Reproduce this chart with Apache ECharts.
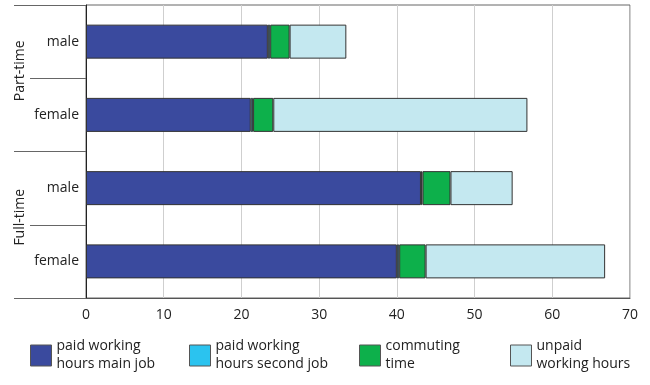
<!DOCTYPE html>
<html>
<head>
<meta charset="utf-8">
<script src="https://cdn.jsdelivr.net/npm/echarts@6/dist/echarts.min.js"></script>
<style>
html,body{margin:0;padding:0;background:#fff;}
#chart{width:650px;height:385px;}
</style>
</head>
<body>
<div id="chart"></div>
<script>
// ---- data ----
var categoryLabels = ['male', 'female', 'male', 'female'];
var groupLabels = ['Part-time', 'Full-time'];
var seriesNames = ['paid working\nhours main job', 'paid working\nhours second job', 'commuting\ntime', 'unpaid\nworking hours'];
var mainJob   = [23.4, 21.2, 43.1, 40.0];
var secondJob = [0.3, 0.3, 0.2, 0.3];
var commuting = [2.5, 2.6, 3.6, 3.4];
var unpaid    = [7.3, 32.7, 8.0, 23.1];
var xTicks = [0, 10, 20, 30, 40, 50, 60, 70];

var colors = ['#3a4a9e', '#2bc3ef', '#0db04b', '#c4e8f0'];
var values = [mainJob, secondJob, commuting, unpaid];
var FONT = 'Open Sans';
var chart = echarts.init(document.getElementById('chart'), null, {renderer: 'canvas'});

var series = values.map(function (v, i) {
  return {
    name: seriesNames[i],
    type: 'bar',
    stack: 'total',
    barWidth: 34,
    data: v,
    itemStyle: {color: colors[i], borderColor: '#333', borderWidth: 1},
    emphasis: {disabled: true}
  };
});

var legendLeft = [30, 189, 359, 510];
var legends = seriesNames.map(function (n, i) {
  return {
    data: [n],
    left: legendLeft[i],
    top: 331,
    padding: 0,
    icon: 'rect',
    itemWidth: 21,
    itemHeight: 21,
    selectedMode: false,
    itemStyle: {borderColor: '#555', borderWidth: 1},
    textStyle: {fontFamily: FONT, fontSize: 14, color: '#222', lineHeight: 18, padding: [13, 0, 0, 0]}
  };
});

chart.setOption({
  animation: false,
  backgroundColor: '#fff',
  color: colors,
  grid: {left: 86, right: 20, top: 5, bottom: 87, show: true, borderColor: '#666', borderWidth: 1},
  legend: legends,
  xAxis: {
    type: 'value',
    min: xTicks[0],
    max: xTicks[xTicks.length - 1],
    interval: 10,
    axisLine: {show: true, lineStyle: {color: '#555'}},
    axisTick: {show: false},
    splitLine: {show: true, lineStyle: {color: '#cfcfcf'}},
    axisLabel: {fontFamily: FONT, fontSize: 14, color: '#222', margin: 10}
  },
  yAxis: [{
    type: 'category',
    inverse: true,
    data: categoryLabels.map(function (c, i) { return i; }),
    axisLine: {show: true, lineStyle: {color: '#222'}},
    axisTick: {show: true, length: 56, lineStyle: {color: '#666'}},
    axisLabel: {
      fontFamily: FONT, fontSize: 14, color: '#222', margin: 7,
      formatter: function (v) { return categoryLabels[+v]; }
    }
  }, {
    type: 'category',
    inverse: true,
    position: 'left',
    offset: 56,
    data: groupLabels,
    axisLine: {show: false},
    axisTick: {show: true, length: 16, lineStyle: {color: '#666'}},
    axisLabel: {fontFamily: FONT, fontSize: 14, color: '#222', rotate: 90, margin: 3, padding: [0, 0, 0, 15]}
  }],
  series: series
});
</script>
</body>
</html>
